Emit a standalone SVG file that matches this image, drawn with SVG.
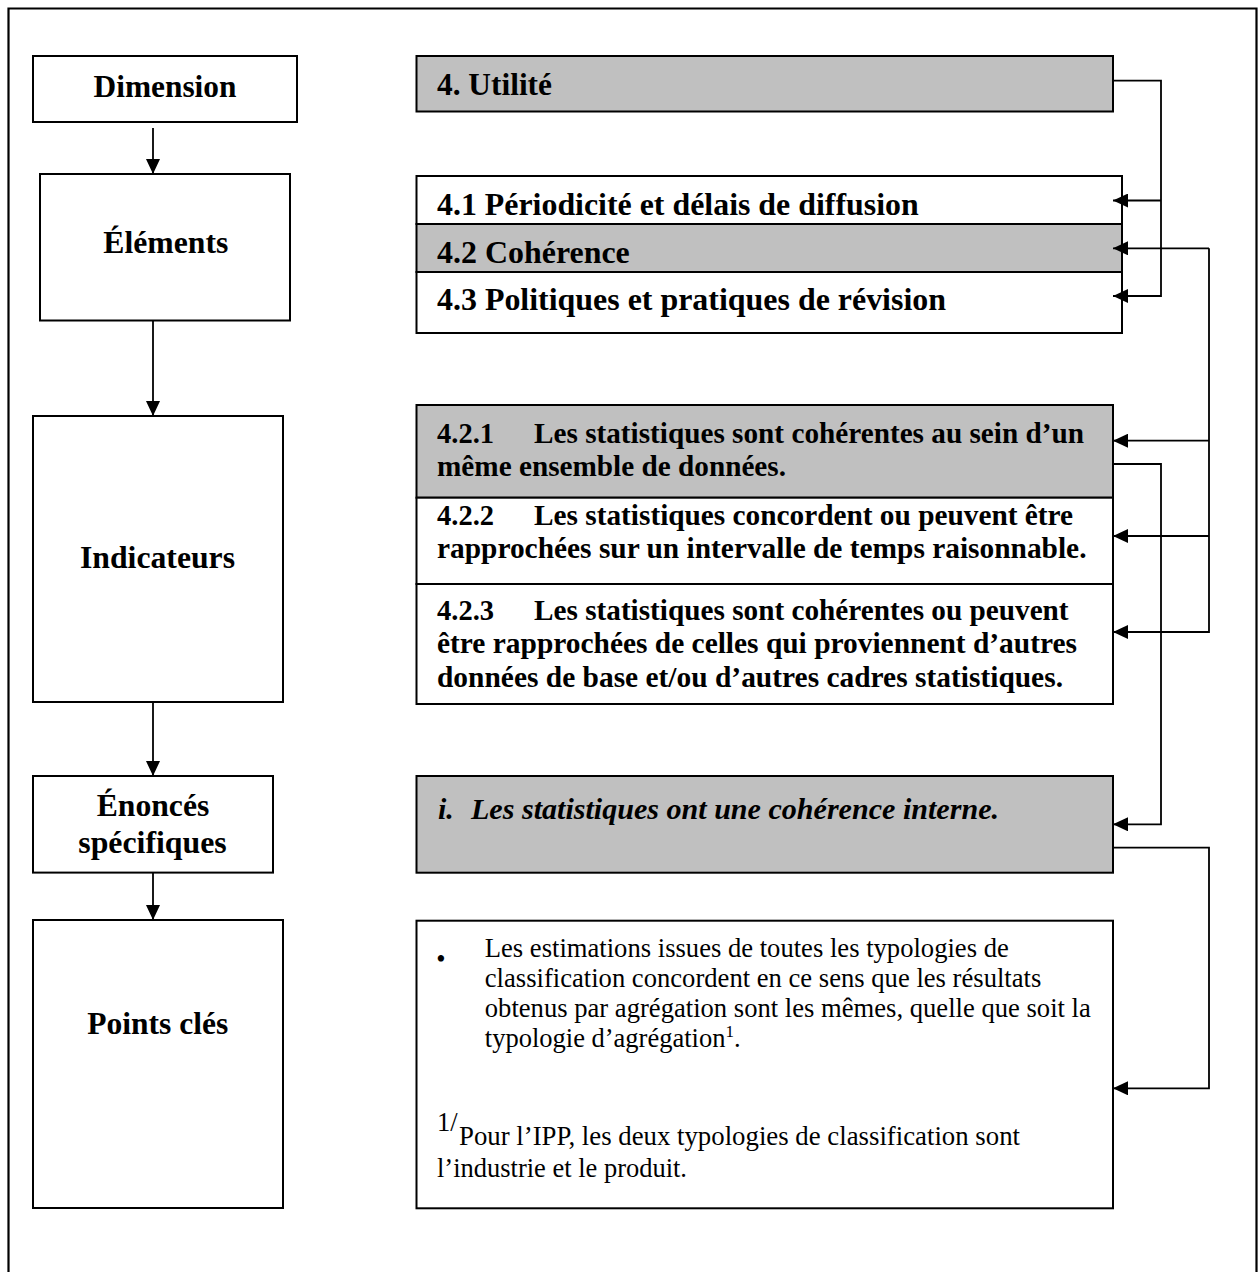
<svg xmlns="http://www.w3.org/2000/svg" width="1258" height="1272" viewBox="0 0 1258 1272">
<style>
.box{stroke:#000;stroke-width:2;fill:#fff}
.gray{fill:#c0c0c0}
.lbl{font-family:"Liberation Serif","Times New Roman",serif;font-weight:bold;font-size:31.5px;fill:#000}
.ind{font-family:"Liberation Serif","Times New Roman",serif;font-weight:bold;font-size:29px;fill:#000}
.bi{font-family:"Liberation Serif","Times New Roman",serif;font-weight:bold;font-style:italic;font-size:30px;fill:#000}
.reg{font-family:"Liberation Serif","Times New Roman",serif;font-size:26.5px;fill:#000}
.con{stroke:#000;stroke-width:1.8;fill:none}
</style>
<defs>
<marker id="ah" markerUnits="userSpaceOnUse" markerWidth="16" markerHeight="14" refX="15" refY="7" orient="auto">
<path d="M0,0 L15,7 L0,14 Z" fill="#000"/>
</marker>
</defs>
<rect x="0" y="0" width="1258" height="1272" fill="#fff"/>
<path d="M8.5,1272 V8.5 H1256.5 V1272" fill="none" stroke="#000" stroke-width="2.2"/>

<g id="n-dimension"><rect class="box" x="33" y="56" width="264" height="66"/><text class="lbl" x="165" y="96.5" text-anchor="middle" textLength="143" lengthAdjust="spacingAndGlyphs">Dimension</text></g>
<g id="n-elements"><rect class="box" x="40" y="174" width="250" height="146.5"/><text class="lbl" x="165.8" y="253" text-anchor="middle" textLength="125" lengthAdjust="spacingAndGlyphs">Éléments</text></g>
<g id="n-indicateurs"><rect class="box" x="33" y="416" width="250" height="286"/><text class="lbl" x="157.5" y="567.5" text-anchor="middle" textLength="155" lengthAdjust="spacingAndGlyphs">Indicateurs</text></g>
<g id="n-enonces"><rect class="box" x="33" y="776" width="240" height="96.6"/><text class="lbl" x="153" y="816" text-anchor="middle" textLength="112.6" lengthAdjust="spacingAndGlyphs">Énoncés</text><text class="lbl" x="152.5" y="853" text-anchor="middle" textLength="148.4" lengthAdjust="spacingAndGlyphs">spécifiques</text></g>
<g id="n-points"><rect class="box" x="33" y="920" width="250" height="288"/><text class="lbl" x="157.8" y="1033.5" text-anchor="middle" textLength="141" lengthAdjust="spacingAndGlyphs">Points clés</text></g>

<g id="n-utilite"><rect class="box gray" x="416.5" y="56" width="696.5" height="55.5"/><text class="lbl" x="437" y="95" textLength="115" lengthAdjust="spacingAndGlyphs">4. Utilité</text></g>
<g id="n-el41"><rect class="box" x="416.5" y="176" width="705.5" height="48"/><text class="lbl" x="437" y="215" textLength="481.7" lengthAdjust="spacingAndGlyphs">4.1 Périodicité et délais de diffusion</text></g>
<g id="n-el42"><rect class="box gray" x="416.5" y="224" width="705.5" height="48"/><text class="lbl" x="437" y="263" textLength="192.8" lengthAdjust="spacingAndGlyphs">4.2 Cohérence</text></g>
<g id="n-el43"><rect class="box" x="416.5" y="272" width="705.5" height="61"/><text class="lbl" x="437" y="310" textLength="509" lengthAdjust="spacingAndGlyphs">4.3 Politiques et pratiques de révision</text></g>

<g id="n-ind421"><rect class="box gray" x="416.5" y="405" width="696.5" height="92.7"/>
<text class="ind" x="437" y="442.7" textLength="57" lengthAdjust="spacingAndGlyphs">4.2.1</text>
<text class="ind" x="534" y="442.7" textLength="550" lengthAdjust="spacingAndGlyphs">Les statistiques sont cohérentes au sein d’un</text>
<text class="ind" x="437" y="476" textLength="349" lengthAdjust="spacingAndGlyphs">même ensemble de données.</text></g>
<g id="n-ind422"><rect class="box" x="416.5" y="497.7" width="696.5" height="86.3"/>
<text class="ind" x="437" y="525" textLength="57" lengthAdjust="spacingAndGlyphs">4.2.2</text>
<text class="ind" x="534" y="525" textLength="539" lengthAdjust="spacingAndGlyphs">Les statistiques concordent ou peuvent être</text>
<text class="ind" x="437" y="558.3" textLength="649.5" lengthAdjust="spacingAndGlyphs">rapprochées sur un intervalle de temps raisonnable.</text></g>
<g id="n-ind423"><rect class="box" x="416.5" y="584" width="696.5" height="120"/>
<text class="ind" x="437" y="620" textLength="57" lengthAdjust="spacingAndGlyphs">4.2.3</text>
<text class="ind" x="534" y="620" textLength="534.6" lengthAdjust="spacingAndGlyphs">Les statistiques sont cohérentes ou peuvent</text>
<text class="ind" x="437" y="653" textLength="640" lengthAdjust="spacingAndGlyphs">être rapprochées de celles qui proviennent d’autres</text>
<text class="ind" x="437" y="686.7" textLength="626" lengthAdjust="spacingAndGlyphs">données de base et/ou d’autres cadres statistiques.</text></g>

<g id="n-enonce-i"><rect class="box gray" x="416.5" y="776" width="696.5" height="96.7"/><text class="bi" x="438" y="819">i.</text><text class="bi" x="471" y="819" textLength="528" lengthAdjust="spacingAndGlyphs">Les statistiques ont une cohérence interne.</text></g>

<g id="n-points-text"><rect class="box" x="416.5" y="920.7" width="696.5" height="287.6"/>
<text class="reg" x="441" y="968" font-size="50" text-anchor="middle">•</text>
<text class="reg" x="484.8" y="956.7" textLength="524" lengthAdjust="spacingAndGlyphs">Les estimations issues de toutes les typologies de</text>
<text class="reg" x="484.8" y="987" textLength="556.5" lengthAdjust="spacingAndGlyphs">classification concordent en ce sens que les résultats</text>
<text class="reg" x="484.8" y="1016.7" textLength="606" lengthAdjust="spacingAndGlyphs">obtenus par agrégation sont les mêmes, quelle que soit la</text>
<text class="reg" x="484.8" y="1046.7">typologie d’agrégation<tspan font-size="17" dy="-10">1</tspan><tspan dy="10">.</tspan></text>
<text class="reg" x="437" y="1131" font-size="18">1/</text>
<text class="reg" x="459" y="1145" textLength="561" lengthAdjust="spacingAndGlyphs">Pour l’IPP, les deux typologies de classification sont</text>
<text class="reg" x="437" y="1176.7" textLength="250" lengthAdjust="spacingAndGlyphs">l’industrie et le produit.</text>
</g>

<g id="connectors">
<path class="con" d="M153,128 V174" marker-end="url(#ah)"/>
<path class="con" d="M153,320.5 V416" marker-end="url(#ah)"/>
<path class="con" d="M153,702 V776" marker-end="url(#ah)"/>
<path class="con" d="M153,872.6 V920" marker-end="url(#ah)"/>

<path class="con" d="M1113,80.7 H1161 V296 H1113" marker-end="url(#ah)"/>
<path class="con" d="M1161,200.5 H1113" marker-end="url(#ah)"/>

<path class="con" d="M1209,248.3 V632 H1113" marker-end="url(#ah)"/>
<path class="con" d="M1209,248.3 H1113" marker-end="url(#ah)"/>
<path class="con" d="M1209,440.7 H1113" marker-end="url(#ah)"/>
<path class="con" d="M1209,536 H1113" marker-end="url(#ah)"/>

<path class="con" d="M1113,464 H1161 V824.3 H1113" marker-end="url(#ah)"/>
<path class="con" d="M1113,847.7 H1209 V1088.3 H1113" marker-end="url(#ah)"/>
</g>
</svg>
